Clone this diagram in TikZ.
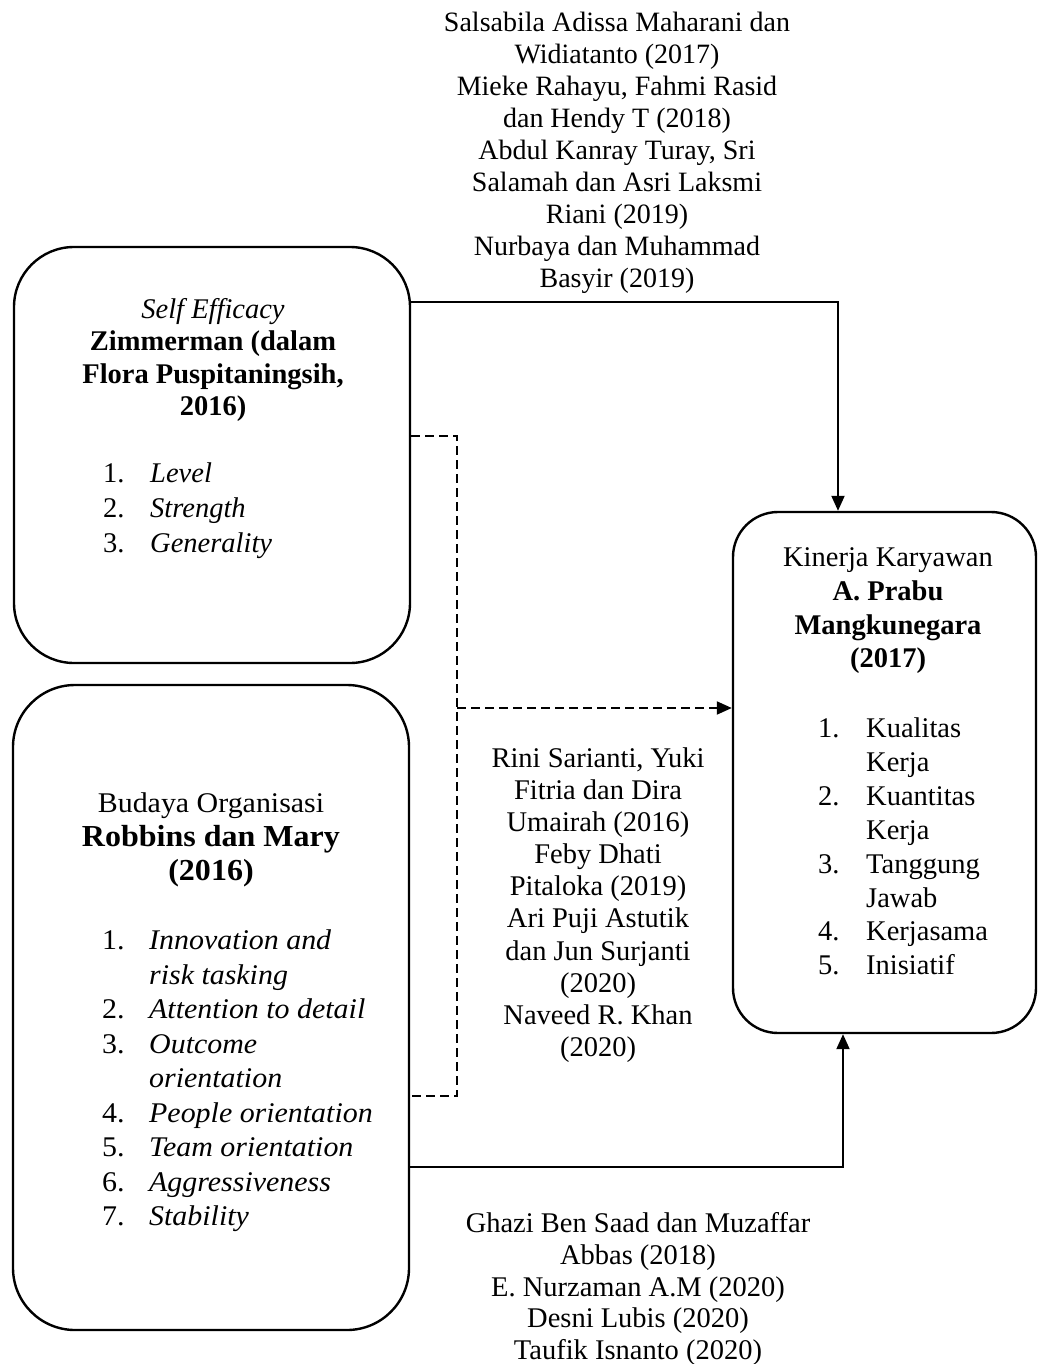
\documentclass[tikz,border=0pt]{standalone}
\usepackage{fontspec}
\setmainfont{Liberation Serif}
\newfontfamily\widefont{Liberation Serif}[FakeStretch=1.05]
\usetikzlibrary{arrows.meta}
\newcommand\numitem[3]{\makebox[#1][l]{#2}#3}
\begin{document}
\begin{tikzpicture}[x=1pt,y=-1pt,
  box/.style={draw, line width=2.4pt, rounded corners=#1, inner sep=0pt},
  txt/.style={font=\fontsize{28.5}{32.3}\selectfont, align=center, inner sep=0pt},
  lst/.style={font=\fontsize{28.5}{34.2}\selectfont, align=left, inner sep=0pt, anchor=west},
  tip/.style={-{Triangle[length=15pt,width=13pt]}},
  conn/.style={line width=2pt, tip},
  dsh/.style={line width=2pt, dash pattern=on 9pt off 5pt}
]
\fill[white] (0,0) rectangle (1037,1364);
\useasboundingbox (0,0) rectangle (1037,1364);

% boxes
\node[box=60, minimum width=396pt, minimum height=416pt] (b1) at (212,455) {};
\node[box=62, minimum width=396pt, minimum height=645pt] (b2) at (211,1007.5) {};
\node[box=45, minimum width=303pt, minimum height=521pt] (b3) at (884.5,772.5) {};

% box 1 text
\node[txt] (h1) at (213,360) {\textit{Self Efficacy}\\ \textbf{Zimmerman (dalam}\\ \textbf{Flora Puspitaningsih,}\\ \textbf{2016)}};
\node[lst, font=\fontsize{28.5}{35}\selectfont] (l1) at (103,511) {\numitem{47pt}{1.}{\textit{Level}}\\ \numitem{47pt}{2.}{\textit{Strength}}\\ \numitem{47pt}{3.}{\textit{Generality}}};

% box 2 text
\node[txt, font=\widefont\fontsize{28.5}{34}\selectfont] (h2) at (211,840) {Budaya Organisasi\\ {\fontsize{30.5}{34}\selectfont\bfseries Robbins dan Mary}\\ {\fontsize{30.5}{34}\selectfont\bfseries (2016)}};
\node[lst, font=\widefont\fontsize{28.5}{34.5}\selectfont] (l2) at (102,1081) {\numitem{47pt}{1.}{\textit{Innovation and}}\\ \hspace*{47pt}\textit{risk tasking}\\ \numitem{47pt}{2.}{\textit{Attention to detail}}\\ \numitem{47pt}{3.}{\textit{Outcome}}\\ \hspace*{47pt}\textit{orientation}\\ \numitem{47pt}{4.}{\textit{People orientation}}\\ \numitem{47pt}{5.}{\textit{Team orientation}}\\ \numitem{47pt}{6.}{\textit{Aggressiveness}}\\ \numitem{47pt}{7.}{\textit{Stability}}};

% box 3 text
\node[txt, font=\fontsize{28.5}{33.7}\selectfont] (h3) at (888,611) {Kinerja Karyawan\\ \textbf{A. Prabu}\\ \textbf{Mangkunegara}\\ \textbf{(2017)}};
\node[lst, font=\fontsize{28.5}{33.9}\selectfont] (l3) at (818,846.5) {\numitem{48pt}{1.}{Kualitas}\\ \hspace*{48pt}Kerja\\ \numitem{48pt}{2.}{Kuantitas}\\ \hspace*{48pt}Kerja\\ \numitem{48pt}{3.}{Tanggung}\\ \hspace*{48pt}Jawab\\ \numitem{48pt}{4.}{Kerjasama}\\ \numitem{48pt}{5.}{Inisiatif}};

% reference texts
\node[txt, font=\fontsize{28}{32}\selectfont] (r1) at (617,153) {Salsabila Adissa Maharani dan\\ Widiatanto (2017)\\ Mieke Rahayu, Fahmi Rasid\\ dan Hendy T (2018)\\ Abdul Kanray Turay, Sri\\ Salamah dan Asri Laksmi\\ Riani (2019)\\ Nurbaya dan Muhammad\\ Basyir (2019)};
\node[txt, font=\fontsize{28.5}{32.1}\selectfont] (r2) at (598,905) {Rini Sarianti, Yuki\\ Fitria dan Dira\\ Umairah (2016)\\ Feby Dhati\\ Pitaloka (2019)\\ Ari Puji Astutik\\ dan Jun Surjanti\\ (2020)\\ Naveed R. Khan\\ (2020)};
\node[txt, font=\fontsize{28.5}{31.8}\selectfont] (r3) at (638,1289) {Ghazi Ben Saad dan Muzaffar\\ Abbas (2018)\\ E. Nurzaman A.M (2020)\\ Desni Lubis (2020)\\ Taufik Isnanto (2020)};

% connectors
\coordinate (t1) at (838,302);
\draw[conn] (b1.east |- t1) -- (t1) -- (t1 |- b3.north);

\coordinate (d1) at (457,436);
\coordinate (d2) at (457,1096);
\coordinate (d3) at (457,708);
\draw[dsh] (b1.east |- d1) -- (d1) -- (d2) -- (b2.east |- d2);
\draw[dsh, tip] (d3) -- (d3 -| b3.west);

\coordinate (t2) at (843,1167);
\draw[conn] (b2.east |- t2) -- (t2) -- (t2 |- b3.south);
\end{tikzpicture}
\end{document}
